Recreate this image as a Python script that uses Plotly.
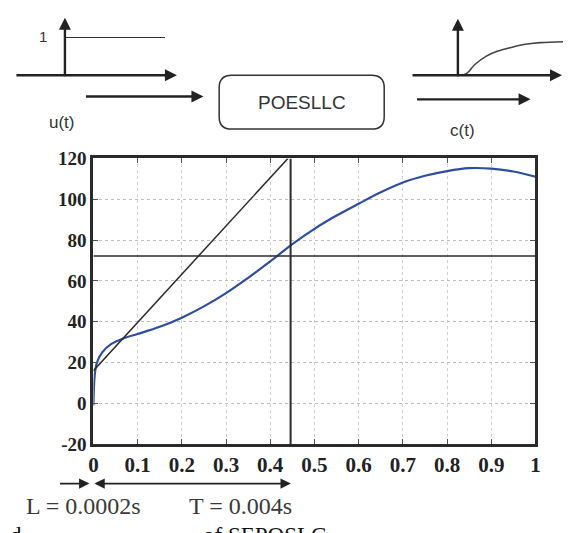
import plotly.graph_objects as go

W, H = 568, 533

# Measured open-loop step response of the POESLLC converter
t = [0, 0.003, 0.008, 0.02, 0.04, 0.07, 0.1, 0.15, 0.2, 0.25, 0.3, 0.35, 0.4,
     0.45, 0.5, 0.55, 0.6, 0.65, 0.7, 0.75, 0.8, 0.85, 0.9, 0.95, 1.0]
response = [-1, 14, 20, 25, 29, 32, 34, 37.5, 42, 47.5, 54, 61.5, 69.5,
            78, 85.5, 92, 97.8, 103.4, 108.2, 111.5, 113.8, 115.2, 115, 113.6, 111]

# Tangent at the inflection point and the construction lines (Ziegler-Nichols)
tangent_t = [0, 0.44]
tangent_c = [16, 120]
level_c = 72.2
level_t = 0.446

x_ticks = [0, 0.1, 0.2, 0.3, 0.4, 0.5, 0.6, 0.7, 0.8, 0.9, 1.0]
x_labels = ["0", "0.1", "0.2", "0.3", "0.4", "0.5", "0.6", "0.7", "0.8", "0.9", "1"]
y_ticks = [-20, 0, 20, 40, 60, 80, 100, 120]
y_labels = ["-20", "0", "20", "40", "60", "80", "100", "120"]

# Schematic input u(t) (unit step) and sketched output c(t)
step_t = [0, 1]
step_u = [1, 1]
sketch_t = [0, 0.084, 0.159, 0.271, 0.374, 0.505, 0.626, 0.785, 1.0]
sketch_c = [0, 0.05, 0.275, 0.5, 0.625, 0.725, 0.8, 0.85, 0.875]

x_range = [0, 1]
y_range = [-20, 120]


def fx(p):
    return p / W


def fy(p):
    return 1 - p / H


fig = go.Figure()

fig.add_trace(go.Scatter(x=t, y=response, mode="lines", line_shape="spline",
                         line=dict(color="#2e4d9c", width=2.2),
                         xaxis="x", yaxis="y", hoverinfo="skip"))
fig.add_trace(go.Scatter(x=tangent_t, y=tangent_c, mode="lines",
                         line=dict(color="#2b2b2b", width=1.5),
                         xaxis="x", yaxis="y", hoverinfo="skip"))
fig.add_trace(go.Scatter(x=x_range, y=[level_c, level_c], mode="lines",
                         line=dict(color="#2b2b2b", width=1.5),
                         xaxis="x", yaxis="y", hoverinfo="skip"))
fig.add_trace(go.Scatter(x=[level_t, level_t], y=y_range, mode="lines",
                         line=dict(color="#2b2b2b", width=2),
                         xaxis="x", yaxis="y", hoverinfo="skip"))

# block-diagram signals
fig.add_trace(go.Scatter(x=step_t, y=step_u, mode="lines",
                         line=dict(color="#333333", width=2),
                         xaxis="x3", yaxis="y3", hoverinfo="skip"))
fig.add_trace(go.Scatter(x=sketch_t, y=sketch_c, mode="lines", line_shape="spline",
                         line=dict(color="#444444", width=1.6),
                         xaxis="x4", yaxis="y4", hoverinfo="skip"))

tick_font = dict(family="Liberation Serif", size=19, color="#222222", weight="bold")

fig.update_layout(
    width=W, height=H,
    margin=dict(l=0, r=0, t=0, b=0),
    paper_bgcolor="white",
    plot_bgcolor="rgba(0,0,0,0)",
    showlegend=False,
    xaxis=dict(
        domain=[fx(90), fx(540)], range=x_range, anchor="y",
        tickvals=x_ticks, ticktext=x_labels,
        tickfont=dict(family="Liberation Serif", size=21, color="#222222", weight="bold"),
        showline=True, linewidth=3, linecolor="#2a2a2a", mirror="ticks",
        ticks="inside", ticklen=5, tickwidth=1, tickcolor="#555555",
        showgrid=True, gridcolor="#cfcfcf", griddash="dot", gridwidth=1,
        zeroline=False,
    ),
    yaxis=dict(
        domain=[fy(452), fy(154.5)], range=y_range, anchor="x",
        tickvals=y_ticks, ticktext=y_labels, tickfont=tick_font,
        showline=True, linewidth=3, linecolor="#2a2a2a", mirror="ticks",
        ticks="inside", ticklen=5, tickwidth=1, tickcolor="#555555",
        showgrid=True, gridcolor="#bdbdbd", griddash="dot", gridwidth=1,
        zeroline=False,
    ),
    xaxis3=dict(domain=[fx(61), fx(163)], range=[0, 1], anchor="y3", visible=False),
    yaxis3=dict(domain=[fy(68), fy(28)], range=[0, 1], anchor="x3", visible=False),
    xaxis4=dict(domain=[fx(461), fx(568)], range=[0, 1], anchor="y4", visible=False),
    yaxis4=dict(domain=[fy(68), fy(28)], range=[0, 1], anchor="x4", visible=False),
)


def arrow(x0, y0, x1, y1, width=2.4, both=False, size=1.0):
    fig.add_annotation(
        x=fx(x1), y=fy(y1), xref="paper", yref="paper",
        ax=x0 - x1, ay=y0 - y1, axref="pixel", ayref="pixel",
        text="", showarrow=True, arrowhead=2, arrowsize=size,
        arrowwidth=width, arrowcolor="#222222",
        arrowside="end+start" if both else "end",
    )


def label(x, y, text, size, family="Liberation Sans", color="#333333",
          xanchor="center", yanchor="middle"):
    fig.add_annotation(
        x=fx(x), y=fy(y), xref="paper", yref="paper", text=text,
        showarrow=False, xanchor=xanchor, yanchor=yanchor,
        font=dict(family=family, size=size, color=color),
    )


# input u(t) sketch
arrow(61, 68, 61, 8)
arrow(13, 68, 175, 68)
arrow(83, 90, 202, 90)
label(39, 28, "1", 15)
label(58, 117, "u(t)", 17)

# output c(t) sketch
arrow(461, 68, 461, 9)
arrow(416, 68, 567, 68)
arrow(420, 93, 535, 93)
label(466, 125, "c(t)", 17)

# plant block with rounded corners
bx0, by0, bx1, by1, r = 218, 68, 386, 124, 13
path = (f"M {fx(bx0 + r)},{fy(by0)} L {fx(bx1 - r)},{fy(by0)} "
        f"Q {fx(bx1)},{fy(by0)} {fx(bx1)},{fy(by0 + r)} "
        f"L {fx(bx1)},{fy(by1 - r)} Q {fx(bx1)},{fy(by1)} {fx(bx1 - r)},{fy(by1)} "
        f"L {fx(bx0 + r)},{fy(by1)} Q {fx(bx0)},{fy(by1)} {fx(bx0)},{fy(by1 - r)} "
        f"L {fx(bx0)},{fy(by0 + r)} Q {fx(bx0)},{fy(by0)} {fx(bx0 + r)},{fy(by0)} Z")
fig.add_shape(type="path", path=path, xref="paper", yref="paper",
              line=dict(color="#333333", width=1.5))
label(302, 96, "POESLLC", 19)

# delay / time-constant markers under the axis
arrow(55, 493, 86, 493, width=1.6, size=1.3)
arrow(93, 493, 291, 493, width=1.6, both=True, size=1.3)
label(80, 532, "L = 0.0002s", 24, family="Liberation Serif", color="#3a3a3a",
      yanchor="bottom")
label(240, 532, "T = 0.004s", 24, family="Liberation Serif", color="#3a3a3a",
      yanchor="bottom")

# caption line running off the bottom edge
label(3, 532, "d", 23, family="Liberation Serif", color="#111111",
      xanchor="left", yanchor="top")
label(200, 532, "of SEPOSLC", 23, family="Liberation Serif", color="#111111",
      xanchor="left", yanchor="top")

fig.write_html("out.html")
